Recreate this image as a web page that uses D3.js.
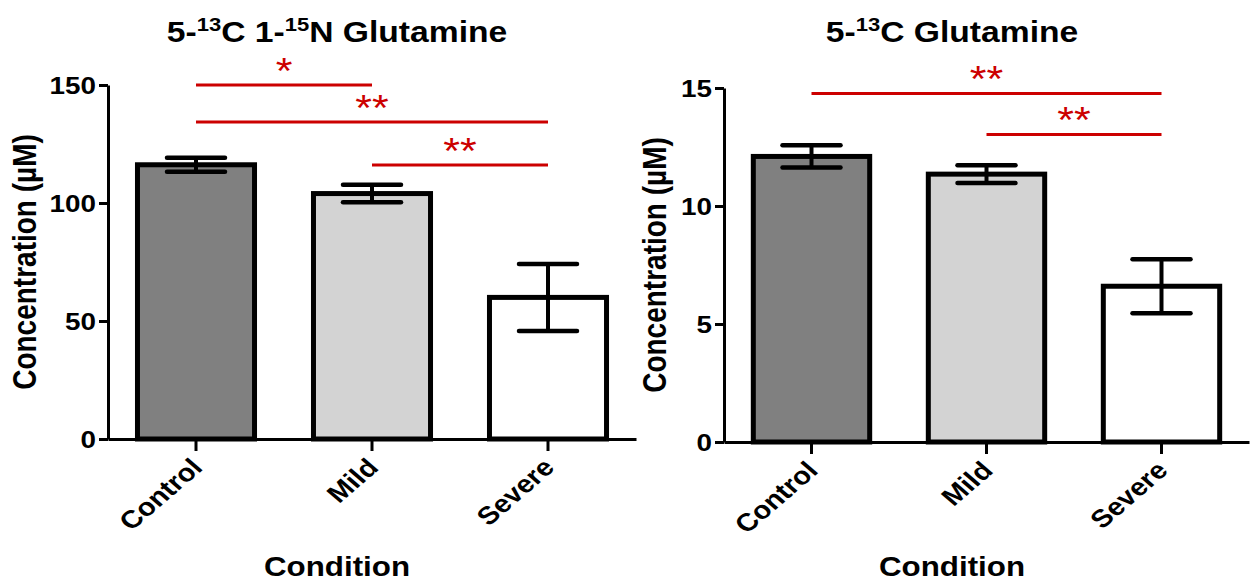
<html lang="en">
<head>
	<title>Glutamine</title>
	<script src="https://d3js.org/d3.v7.min.js" charset="utf-8"></script>
	<style>
		body { margin: 0; background: #fff; }
		text { font-family: "Liberation Sans", Arial, sans-serif; }
	</style>
</head>
<body>
	<script>
	// Chart data
	var categories = ["Control", "Mild", "Severe"];
	var barFills = ["#808080", "#d3d3d3", "#ffffff"];

	// 5-13C 1-15N Glutamine
	var dualMean = [116.2, 104.0, 60.0];
	var dualSem = [3.0, 3.7, 14.2];
	var dualTicks = [0, 50, 100, 150];
	var dualSigFrom = [0, 0, 1];
	var dualSigTo = [1, 2, 2];
	var dualSigY = [150, 134.3, 116.1];
	var dualSigLabel = ["*", "**", "**"];

	// 5-13C Glutamine
	var singleMean = [12.1, 11.35, 6.6];
	var singleSem = [0.47, 0.38, 1.14];
	var singleTicks = [0, 5, 10, 15];
	var singleSigFrom = [0, 1];
	var singleSigTo = [2, 2];
	var singleSigY = [14.77, 13.03];
	var singleSigLabel = ["**", "**"];

	var W = 1251, H = 584;
	var stretch = 1.16; // the text in the picture is a bit wide
	var red = "#cc0000";

	var svg = d3.select("body").append("svg")
		.attr("width", W)
		.attr("height", H);

	function drawPanel(p) {
		var g = svg.append("g");

		var x = d3.scaleBand()
			.domain(categories)
			.range([p.left, p.right])
			.paddingInner(0.335)
			.paddingOuter(0.1675);

		var y = d3.scaleLinear()
			.domain([0, p.yMax])
			.range([p.bottom, p.top]);

		// bars
		g.selectAll("rect.bar")
			.data(categories)
			.enter()
			.append("rect")
			.attr("class", "bar")
			.attr("x", function(d) { return x(d); })
			.attr("y", function(d, i) { return y(p.mean[i]); })
			.attr("width", x.bandwidth())
			.attr("height", function(d, i) { return y(0) - y(p.mean[i]); })
			.attr("fill", function(d, i) { return barFills[i]; })
			.attr("stroke", "#000")
			.attr("stroke-width", 5);

		// error bars
		var eb = g.selectAll("g.err")
			.data(categories)
			.enter()
			.append("g")
			.attr("class", "err")
			.attr("transform", function(d) { return "translate(" + (x(d) + x.bandwidth() / 2) + ",0)"; });
		eb.append("line")
			.attr("x1", 0).attr("x2", 0)
			.attr("y1", function(d, i) { return y(p.mean[i] + p.sem[i]); })
			.attr("y2", function(d, i) { return y(p.mean[i] - p.sem[i]); })
			.attr("stroke", "#000").attr("stroke-width", 4);
		[1, -1].forEach(function(s) {
			eb.append("line")
				.attr("x1", -29).attr("x2", 29)
				.attr("y1", function(d, i) { return y(p.mean[i] + s * p.sem[i]); })
				.attr("y2", function(d, i) { return y(p.mean[i] + s * p.sem[i]); })
				.attr("stroke", "#000").attr("stroke-width", 4.5)
				.attr("stroke-linecap", "round");
		});

		// axes
		var yAxis = g.append("g")
			.attr("transform", "translate(" + p.left + ",0)")
			.call(d3.axisLeft(y).tickValues(p.ticks).tickSize(9).tickSizeOuter(0).tickPadding(3));
		var xAxis = g.append("g")
			.attr("transform", "translate(0," + p.bottom + ")")
			.call(d3.axisBottom(x).tickSize(12).tickSizeOuter(0).tickPadding(0));
		[yAxis, xAxis].forEach(function(a) {
			a.select(".domain").attr("stroke-width", 3);
			a.selectAll(".tick line").attr("stroke-width", 3);
		});
		yAxis.selectAll("text")
			.attr("font-size", 24)
			.attr("font-weight", "bold")
			.attr("fill", "#000")
			.attr("dy", "0.36em")
			.attr("transform", function() {
				return "translate(-12,0) scale(" + stretch + ",1) translate(12,0)";
			});
		xAxis.selectAll("text")
			.attr("font-size", 25)
			.attr("font-weight", "bold")
			.attr("fill", "#000")
			.attr("x", 0).attr("y", 0).attr("dy", 0)
			.attr("text-anchor", "end")
			.attr("transform", "translate(8,30) scale(" + stretch + ",1) rotate(-45)");

		// significance lines
		var sig = g.selectAll("g.sig")
			.data(p.sigLabel)
			.enter()
			.append("g")
			.attr("class", "sig");
		function cx(i) { return x(categories[i]) + x.bandwidth() / 2; }
		sig.append("line")
			.attr("x1", function(d, i) { return cx(p.sigFrom[i]); })
			.attr("x2", function(d, i) { return cx(p.sigTo[i]); })
			.attr("y1", function(d, i) { return y(p.sigY[i]); })
			.attr("y2", function(d, i) { return y(p.sigY[i]); })
			.attr("stroke", red).attr("stroke-width", 3);
		sig.append("text")
			.attr("transform", function(d, i) {
				return "translate(" + (cx(p.sigFrom[i]) + cx(p.sigTo[i])) / 2 + "," + (y(p.sigY[i]) - 1) + ") scale(" + stretch + ",1)";
			})
			.attr("text-anchor", "middle")
			.attr("font-size", 37)
			.attr("fill", red)
			.text(function(d) { return d; });

		// title
		var t = g.append("text")
			.attr("transform", "translate(" + p.titleX + ",42) scale(" + stretch + ",1)")
			.attr("text-anchor", "middle")
			.attr("font-size", 29)
			.attr("font-weight", "bold");
		p.title.forEach(function(part) {
			t.append("tspan")
				.attr("font-size", part.sup ? 19 : 29)
				.attr("dy", part.sup ? -11 : (part.after ? 11 : 0))
				.text(part.s);
		});

		// axis titles
		g.append("text")
			.attr("transform", "translate(" + p.titleX + ",576) scale(" + stretch + ",1)")
			.attr("text-anchor", "middle")
			.attr("font-size", 27)
			.attr("font-weight", "bold")
			.text("Condition");
		g.append("text")
			.attr("transform", "translate(" + p.yLabelX + "," + (p.top + p.bottom) / 2 + ") scale(" + stretch + ",1) rotate(-90)")
			.attr("text-anchor", "middle")
			.attr("font-size", 28)
			.attr("font-weight", "bold")
			.text("Concentration (µM)");
	}

	drawPanel({
		left: 108, right: 636, top: 85, bottom: 439, yMax: 150,
		mean: dualMean, sem: dualSem, ticks: dualTicks,
		sigFrom: dualSigFrom, sigTo: dualSigTo, sigY: dualSigY, sigLabel: dualSigLabel,
		titleX: 337, yLabelX: 36,
		title: [{s: "5-"}, {s: "13", sup: true}, {s: "C 1-", after: true}, {s: "15", sup: true}, {s: "N Glutamine", after: true}]
	});

	drawPanel({
		left: 724, right: 1249, top: 88, bottom: 442, yMax: 15,
		mean: singleMean, sem: singleSem, ticks: singleTicks,
		sigFrom: singleSigFrom, sigTo: singleSigTo, sigY: singleSigY, sigLabel: singleSigLabel,
		titleX: 952, yLabelX: 666,
		title: [{s: "5-"}, {s: "13", sup: true}, {s: "C Glutamine", after: true}]
	});
	</script>
</body>
</html>
